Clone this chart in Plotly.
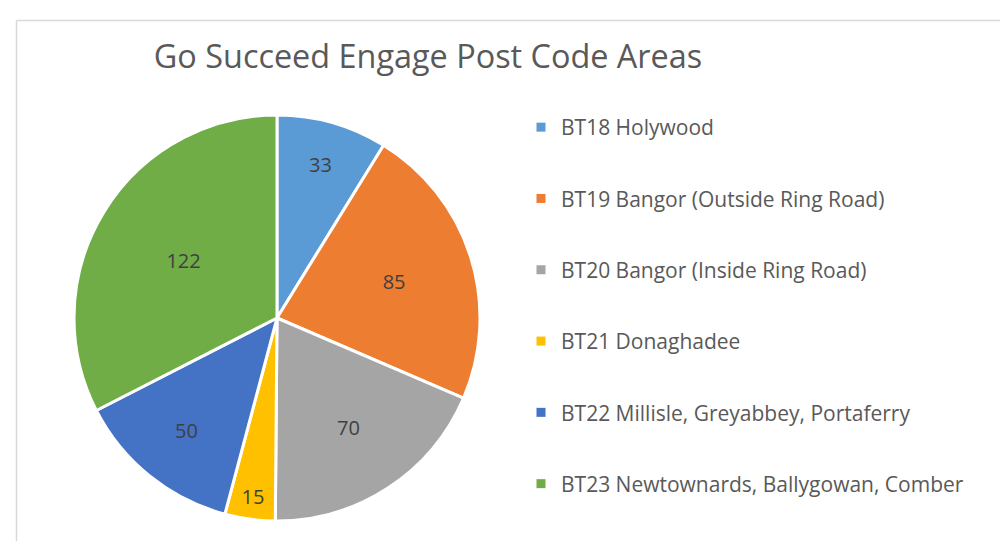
import plotly.graph_objects as go

categories = [
    "BT18 Holywood",
    "BT19 Bangor (Outside Ring Road)",
    "BT20 Bangor (Inside Ring Road)",
    "BT21 Donaghadee",
    "BT22 Millisle, Greyabbey, Portaferry",
    "BT23 Newtownards, Ballygowan, Comber",
]
values = [33, 85, 70, 15, 50, 122]
colors = ["#5B9BD5", "#ED7D31", "#A5A5A5", "#FFC000", "#4472C4", "#70AD47"]
title_text = "Go Succeed Engage Post Code Areas"

W, H = 1008, 541
FONT = "Open Sans"

cx, cy, r = 269, 310, 203

fig = go.Figure()
fig.add_trace(go.Pie(
    labels=categories,
    values=values,
    sort=False,
    direction="clockwise",
    rotation=0,
    marker=dict(colors=colors, line=dict(color="white", width=3)),
    textinfo="value",
    textposition="inside",
    insidetextorientation="horizontal",
    textfont=dict(family=FONT, size=20, color="#404040"),
    showlegend=False,
    domain=dict(x=[(cx - r) / W, (cx + r) / W], y=[1 - (cy + r) / H, 1 - (cy - r) / H]),
))

# legend entries (one group per category for spacing)
for i, (name, col) in enumerate(zip(categories, colors)):
    fig.add_trace(go.Scatter(
        x=[None], y=[None], mode="markers", name=name,
        marker=dict(symbol="square", size=9, color=col),
        legendgroup=f"g{i}", showlegend=True,
    ))

fig.update_layout(
    width=W, height=H,
    margin=dict(l=0, r=0, t=0, b=0),
    paper_bgcolor="white", plot_bgcolor="white",
    xaxis=dict(visible=False), yaxis=dict(visible=False),
    uniformtext=dict(minsize=20, mode="show"),
    title=dict(text=title_text, x=420 / W, xanchor="center", y=1 - 49 / H, yanchor="middle",
               font=dict(family=FONT, size=32.4, color="#595959")),
    legend=dict(
        x=513 / W, xanchor="left", y=1 - 99 / H, yanchor="top",
        font=dict(family=FONT, size=21, color="#595959"),
        tracegroupgap=41, itemwidth=30, bgcolor="rgba(0,0,0,0)",
    ),
    shapes=[
        dict(type="line", xref="paper", yref="paper", x0=8.5 / W, x1=1.01, y0=1 - 12.5 / H, y1=1 - 12.5 / H,
             line=dict(color="#D9D9D9", width=1.5)),
        dict(type="line", xref="paper", yref="paper", x0=8.5 / W, x1=8.5 / W, y0=-0.01, y1=1 - 12.5 / H,
             line=dict(color="#D9D9D9", width=1.5)),
    ],
)

fig.write_html("out.html")
